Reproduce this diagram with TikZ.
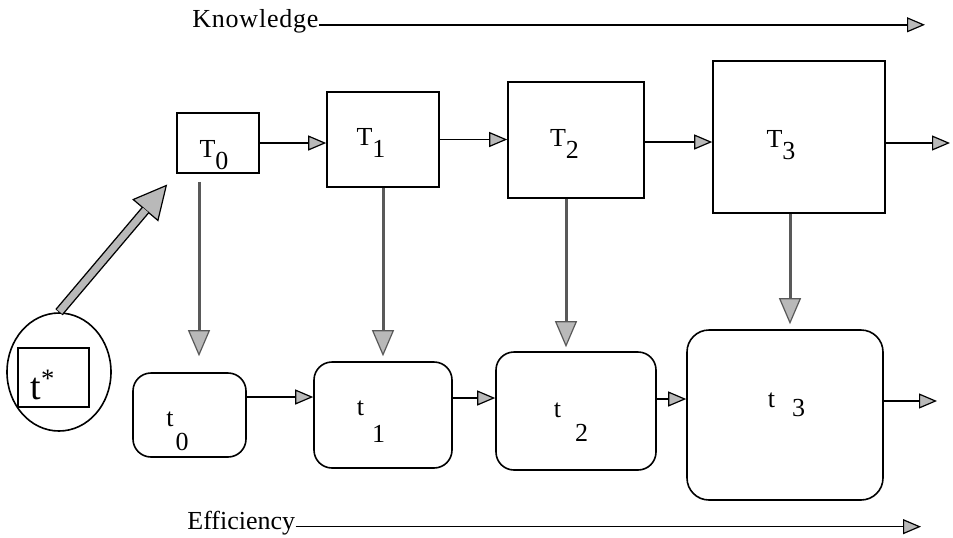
\documentclass[tikz,border=0pt]{standalone}
\usepackage{fontspec}
\setmainfont{Liberation Serif}
\usetikzlibrary{arrows.meta,shapes.geometric}

% index set a little below the letter
\newcommand{\lowidx}[1]{\raisebox{-6pt}{#1}}
% small t with its number further down and to the right
\newcommand{\tstep}[3]{t\hspace{#1}\raisebox{-#2}{#3}}

\begin{document}
\begin{tikzpicture}[x=0.5pt, y=-0.5pt, font=\fontsize{13}{15}\selectfont,
    tip/.style={-{Triangle[length=9pt, width=7.5pt, fill=gray!55, line width=0.6pt]}},
    flow/.style={tip, line width=0.8pt},
    drop/.style={-{Triangle[length=13pt, width=11pt, fill=gray!55, line width=0.6pt]}, line width=1.5pt, draw=black!65},
    kbox/.style={draw, line width=0.8pt, inner sep=0pt},
    ebox/.style={draw, line width=0.8pt, rounded corners=9pt, inner sep=0pt},
    spaced/.style={font=\fontsize{13}{15}\selectfont\addfontfeature{LetterSpace=3}}]
    \useasboundingbox (0, 0) rectangle (953, 537);

    % Knowledge row
    \node[kbox, minimum width=41pt, minimum height=30pt,
          label={[xshift=-2pt, yshift=-6pt]center:{T\lowidx{0}}}] (T0) at (218, 143) {};
    \node[kbox, minimum width=56pt, minimum height=47.5pt,
          label={[xshift=-6pt, yshift=-1.5pt]center:{T\lowidx{1}}}] (T1) at (383, 139.5) {};
    \node[kbox, minimum width=68pt, minimum height=58pt,
          label={[xshift=-5.75pt, yshift=-2pt]center:{T\lowidx{2}}}] (T2) at (576, 140) {};
    \node[kbox, minimum width=86pt, minimum height=76pt,
          label={[xshift=-9pt, yshift=-4pt]center:{T\lowidx{3}}}] (T3) at (799, 137) {};

    % Efficiency row
    \node[ebox, minimum width=56.5pt, minimum height=42pt,
          label={[xshift=-6pt, yshift=-8pt]center:{\tstep{1pt}{12pt}{0}}}] (t0) at (189.5, 415) {};
    \node[ebox, minimum width=69pt, minimum height=53pt,
          label={[xshift=-6pt, yshift=-3.5pt]center:{\tstep{4pt}{13.5pt}{1}}}] (t1) at (383, 415) {};
    \node[ebox, minimum width=80pt, minimum height=59pt,
          label={[xshift=-2.5pt, yshift=-5.5pt]center:{\tstep{7pt}{12pt}{2}}}] (t2) at (576, 411) {};
    \node[ebox, minimum width=98pt, minimum height=85pt, rounded corners=11pt,
          label={[xshift=0.75pt, yshift=5pt]center:{\tstep{8.5pt}{4.5pt}{3}}}] (t3) at (785, 415) {};

    % starting point
    \node[draw, ellipse, line width=0.8pt, minimum width=52pt, minimum height=59pt] (tstar) at (59, 372) {};
    \node[kbox, minimum width=35.5pt, minimum height=29.5pt] (tsbox) at (53.5, 377.5) {};
    \node[font=\fontsize{19}{19}\selectfont] (tslbl) at (43, 385) {t\textsuperscript{*}};

    % titles
    \node[spaced, anchor=base west, inner sep=0pt] (know) at (192, 27) {Knowledge};
    \node[anchor=base west, inner sep=0pt] (eff) at (187, 529) {Efficiency};
    \coordinate (kend) at (925, 25);
    \coordinate (eend) at (921, 527);
    \coordinate (Tout) at (950, 143);
    \coordinate (tout) at (937, 401);

    \draw[flow] ([yshift=-2pt]know.east) -- ([yshift=-2pt]know.east -| kend);
    \draw[flow] ([yshift=-2pt]eff.east) -- ([yshift=-2pt]eff.east -| eend);

    % horizontal steps
    \draw[flow] (T0.east) -- (T0.east -| T1.west);
    \draw[flow] (T1.east) -- (T1.east -| T2.west);
    \draw[flow] ([yshift=-1pt]T2.east) -- ([yshift=-1pt]T2.east -| T3.west);
    \draw[flow] ([yshift=-3pt]T3.east) -- (Tout);
    \draw[flow] ([yshift=9pt]t0.east) -- ([yshift=9pt]t0.east -| t1.west);
    \draw[flow] ([yshift=8.5pt]t1.east) -- ([yshift=8.5pt]t1.east -| t2.west);
    \draw[flow] ([yshift=6pt]t2.east) -- ([yshift=6pt]t2.east -| t3.west);
    \draw[flow] ([yshift=7pt]t3.east) -- (tout);

    % vertical drops
    \draw[drop, shorten <=4pt, shorten >=8pt] ([xshift=-9.5pt]T0.south) -- ([xshift=-9.5pt]T0.south |- t0.north);
    \draw[drop, shorten >=2.5pt] (T1.south) -- (T1.south |- t1.north);
    \draw[drop, shorten >=2pt] ([xshift=-5pt]T2.south) -- ([xshift=-5pt]T2.south |- t2.north);
    \draw[drop, shorten >=2.5pt] ([xshift=-4.5pt]T3.south) -- ([xshift=-4.5pt]T3.south |- t3.north);

    % thick arrow into T0
    \draw[line width=4.8pt, shorten >=7pt,
          -{Triangle[length=17pt, width=17pt, fill=gray!55, line width=0.6pt]}] (tstar.north) -- (T0.south west);
    \draw[line width=3.4pt, gray!55, shorten >=23.7pt, shorten <=0.4pt] (tstar.north) -- (T0.south west);
\end{tikzpicture}
\end{document}
